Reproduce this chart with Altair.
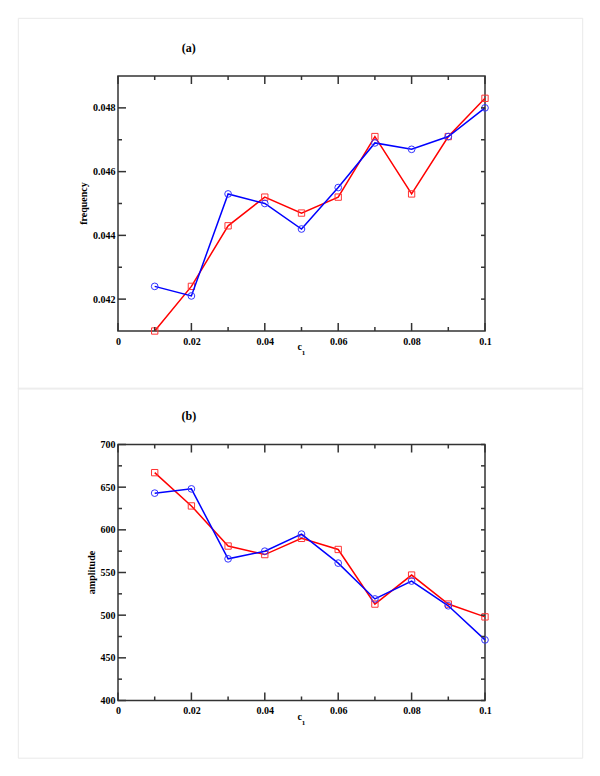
import altair as alt
import pandas as pd

# ---------------- data ----------------
c1 = [0.01, 0.02, 0.03, 0.04, 0.05, 0.06, 0.07, 0.08, 0.09, 0.10]
freq_blue = [0.0424, 0.0421, 0.0453, 0.0450, 0.0442, 0.0455, 0.0469, 0.0467, 0.0471, 0.0480]
freq_red = [0.0410, 0.0424, 0.0443, 0.0452, 0.0447, 0.0452, 0.0471, 0.0453, 0.0471, 0.0483]
amp_blue = [643, 648, 566, 575, 595, 561, 519, 540, 511, 471]
amp_red = [667, 628, 581, 571, 590, 577, 513, 547, 513, 498]

x_major = [0, 0.02, 0.04, 0.06, 0.08, 0.1]
x_minor = [0.01, 0.03, 0.05, 0.07, 0.09]
freq_major = [0.042, 0.044, 0.046, 0.048]
freq_minor = [0.043, 0.045, 0.047]
amp_major = [400, 450, 500, 550, 600, 650, 700]
amp_minor = [425, 475, 525, 575, 625, 675]

panel_tags = ["(a)", "(b)"]
y_titles = ["frequency", "amplitude"]
x_title = ["c", "1"]

FONT = "Liberation Serif, Times New Roman, serif"
W = 367
AXC = "#333333"


def one(s):
    return pd.DataFrame({"s": [s]})


def panel(blue, red, ydomain, ymajor, yminor, yfmt, height, tag, ytitle, ytitle_x, box_top, box_bottom):
    xscale = alt.Scale(domain=[0, 0.1], nice=False, zero=False)
    yscale = alt.Scale(domain=ydomain, nice=False, zero=False)
    xaxis = alt.Axis(values=x_major, format="~g", tickSize=0, domain=False, grid=False,
                     labelPadding=5, title=None, labelFlush=False, labelOverlap=False)
    yaxis = alt.Axis(values=ymajor, format=yfmt, tickSize=0, domain=False, grid=False,
                     labelPadding=3, title=None, labelFlush=False, labelOverlap=False)

    df_b = pd.DataFrame({"c1": c1, "val": blue})
    df_r = pd.DataFrame({"c1": c1, "val": red})
    X = alt.X("c1:Q", scale=xscale, axis=xaxis)
    Y = alt.Y("val:Q", scale=yscale, axis=yaxis)

    box = alt.Chart(one("")).mark_rect(fillOpacity=0, stroke="#e9e9e9", strokeWidth=1, clip=False).encode(
        x=alt.value(-99.7), x2=alt.value(464.7), y=alt.value(box_top), y2=alt.value(box_bottom))

    red_line = alt.Chart(df_r).mark_line(color="#ff0000", strokeWidth=1.5, clip=False).encode(x=X, y=Y)
    red_pts = alt.Chart(df_r).mark_point(shape="square", filled=False, color="#ff3333", size=40,
                                         strokeWidth=1, opacity=1, clip=False).encode(x=X, y=Y)
    blue_line = alt.Chart(df_b).mark_line(color="#0000ff", strokeWidth=1.5, clip=False).encode(x=X, y=Y)
    blue_pts = alt.Chart(df_b).mark_point(shape="circle", filled=False, color="#3333ff", size=45,
                                          strokeWidth=1, opacity=1, clip=False).encode(x=X, y=Y)

    def xt(vals, y1, y2):
        return alt.Chart(pd.DataFrame({"t": vals})).mark_rule(color=AXC, strokeWidth=1.5).encode(
            x=alt.X("t:Q", scale=xscale, axis=xaxis), y=alt.value(y1), y2=alt.value(y2))

    def yt(vals, x1, x2):
        return alt.Chart(pd.DataFrame({"v": vals})).mark_rule(color=AXC, strokeWidth=1.5).encode(
            y=alt.Y("v:Q", scale=yscale, axis=yaxis), x=alt.value(x1), x2=alt.value(x2))

    ticks = [
        xt(x_major, height, height - 8), xt(x_minor, height, height - 4),
        xt(x_major, 0, 8), xt(x_minor, 0, 4),
        yt(ymajor, 0, 8), yt(yminor, 0, 4),
        yt(ymajor, W, W - 4), yt(yminor, W, W - 4),
    ]

    txt = dict(font=FONT, fontWeight="bold", color="black")
    tag_t = alt.Chart(one(tag)).mark_text(fontSize=12, align="center", baseline="alphabetic", **txt).encode(
        x=alt.value(70.8), y=alt.value(-24.5), text="s:N")
    ytit = alt.Chart(one(ytitle)).mark_text(fontSize=10, align="center", baseline="middle", angle=270, **txt).encode(
        x=alt.value(ytitle_x), y=alt.value(height / 2), text="s:N")
    c_t = alt.Chart(one(x_title[0])).mark_text(fontSize=10, align="center", baseline="alphabetic", **txt).encode(
        x=alt.value(181.7), y=alt.value(height + 19), text="s:N")
    sub_t = alt.Chart(one(x_title[1])).mark_text(fontSize=7, align="center", baseline="alphabetic", **txt).encode(
        x=alt.value(185.5), y=alt.value(height + 24), text="s:N")

    return alt.layer(box, red_line, red_pts, blue_line, blue_pts, *ticks, tag_t, ytit, c_t, sub_t).properties(
        width=W, height=height)


pa = panel(freq_blue, freq_red, [0.041, 0.049], freq_major, freq_minor, "~g", 255, panel_tags[0], y_titles[0],
           -33.7, -57.7, 313)
pb = panel(amp_blue, amp_red, [400, 700], amp_major, amp_minor, "d", 256, panel_tags[1], y_titles[1],
           -26, -56.3, 313.7)

chart = alt.vconcat(pa, pb, spacing=-4.5).properties(
    padding={"left": 9, "top": 9, "right": 5, "bottom": 5}
).configure_view(stroke=AXC, strokeWidth=1.5).configure_axis(
    labelFont=FONT, labelFontWeight="bold", labelFontSize=10, labelColor="black"
)

chart.save("out.html", embed_options={"renderer": "svg", "actions": False})
